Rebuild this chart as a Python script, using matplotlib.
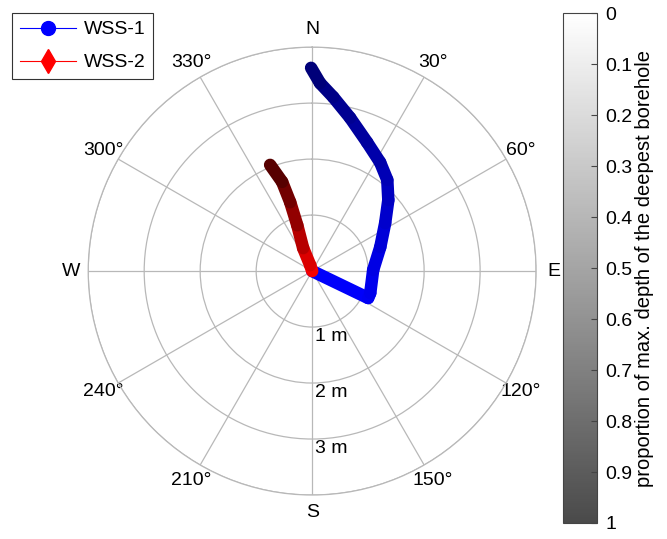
import numpy as np
import matplotlib
matplotlib.use('Agg')
import matplotlib.pyplot as plt
from matplotlib.collections import LineCollection
from matplotlib.colors import LinearSegmentedColormap, Normalize
from matplotlib.lines import Line2D

plt.rcParams['font.family'] = ['Liberation Sans', 'DejaVu Sans']

# borehole WSS-1: bearing from north (deg), horizontal offset (m), depth proportion
wss1_bearing = [0, 115.7, 110.8, 89.0, 70.6, 56.7, 47.0, 39.5, 32.0, 23.1, 13.9, 6.9, 2.4, 359.7]
wss1_offset = [0, 1.11, 1.11, 1.09, 1.29, 1.56, 1.86, 2.11, 2.29, 2.50, 2.82, 3.13, 3.36, 3.63]
wss1_depth = [0, 0.05, 0.08, 0.12, 0.18, 0.25, 0.32, 0.38, 0.44, 0.50, 0.57, 0.64, 0.70, 0.78]

# borehole WSS-2
wss2_bearing = [0, 341.6, 338.6, 342.0, 342.3, 341.4, 338.4]
wss2_offset = [0, 0.11, 0.44, 0.86, 1.29, 1.68, 2.04]
wss2_depth = [0, 0.10, 0.30, 0.50, 0.70, 0.85, 1.0]

compass = ['N', '30°', '60°', 'E', '120°', '150°', 'S', '210°', '240°', 'W', '300°', '330°']
rings = [1, 2, 3]
cbar_ticks = [0, 0.1, 0.2, 0.3, 0.4, 0.5, 0.6, 0.7, 0.8, 0.9, 1]

shade = LinearSegmentedColormap.from_list('shade', ['#ffffff', '#4a4a4a'])
norm = Normalize(0, 1)

fig = plt.figure(figsize=(6.67, 5.39), dpi=100)
ax = fig.add_axes([0.132, 0.0816, 0.672, 0.831], projection='polar')
ax.set_theta_zero_location('N')
ax.set_theta_direction(-1)
ax.set_ylim(0, 4)

ax.set_thetagrids(np.arange(0, 360, 30), labels=compass, fontsize=14)
ax.set_rgrids([1, 2, 3, 4], labels=['', '', '', ''])
ax.grid(True, color='#b8b8b8', lw=0.9, ls='-')
ax.spines['polar'].set_color('#b8b8b8')
ax.spines['polar'].set_linewidth(0.9)
ax.tick_params(axis='x', pad=2)

for r in rings:
    ax.annotate('%d m' % r, xy=(np.pi, r), xytext=(2, -1), textcoords='offset points',
                ha='left', va='top', fontsize=14)


def draw_track(bearing, offset, depth, base):
    th = np.radians(bearing)
    pts = np.column_stack([th, offset])
    segs = [pts[i:i + 2] for i in range(len(pts) - 1)]
    mid = [(depth[i] + depth[i + 1]) / 2 for i in range(len(depth) - 1)]
    cols = []
    for m in mid:
        g = shade(norm(m))[0]
        cols.append(tuple(np.array(base) * g) + (1.0,))
    lc = LineCollection(segs, colors=cols, linewidths=9, capstyle='round', joinstyle='round', zorder=3)
    ax.add_collection(lc)


draw_track(wss1_bearing, wss1_offset, wss1_depth, (0, 0, 1))
draw_track(wss2_bearing, wss2_offset, wss2_depth, (1, 0, 0))

handles = [Line2D([], [], color='blue', lw=0.8, marker='o', markersize=10),
           Line2D([], [], color='red', lw=0.8, marker='d', markersize=12)]
leg = fig.legend(handles, ['WSS-1', 'WSS-2'], loc='upper left', bbox_to_anchor=(0.018, 0.976),
                 borderaxespad=0, fontsize=14, fancybox=False, framealpha=1, edgecolor='#333333',
                 handlelength=2.9, borderpad=0.4, labelspacing=0.8, handletextpad=0.4)
leg.get_frame().set_linewidth(0.8)

cax = fig.add_axes([0.844, 0.0297, 0.051, 0.946])
sm = plt.cm.ScalarMappable(norm=norm, cmap=shade)
cb = fig.colorbar(sm, cax=cax, ticks=cbar_ticks)
cb.ax.invert_yaxis()
cb.ax.set_yticklabels(['%g' % t for t in cbar_ticks])
cb.ax.tick_params(direction='in', length=4, width=0.8, labelsize=14, pad=6, color='#444444')
cb.outline.set_edgecolor('#444444')
cb.outline.set_linewidth(0.8)
cb.set_label('proportion of max. depth of the deepest borehole', fontsize=14.5, labelpad=2)

fig.savefig('out.png', dpi=100)
